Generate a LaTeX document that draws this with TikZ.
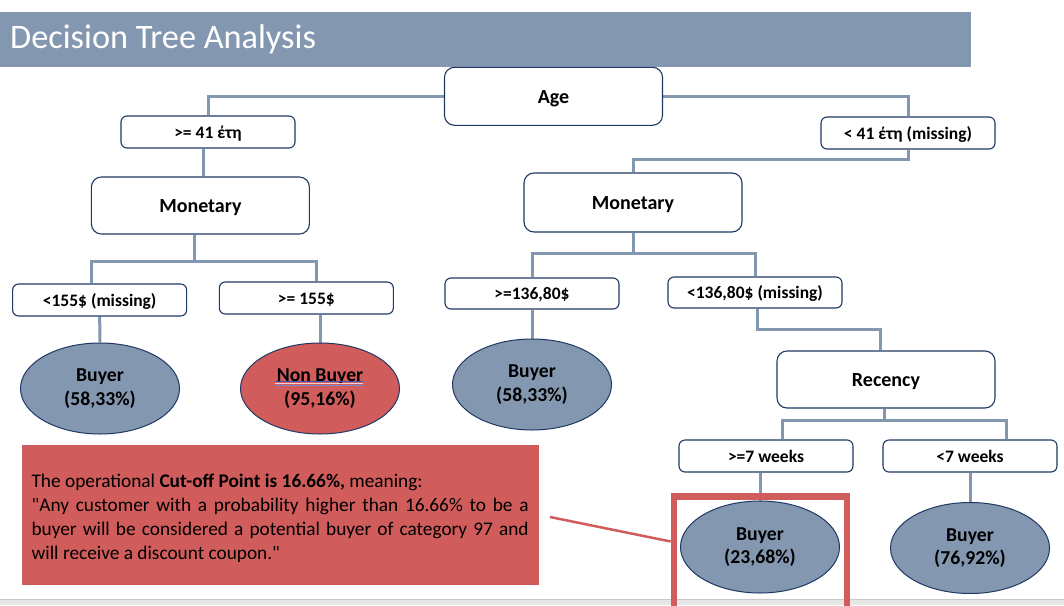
\documentclass[tikz,border=0pt]{standalone}
\usepackage{fontspec}
\setmainfont{Carlito}[Ligatures=TeXOff]
\usetikzlibrary{shapes.geometric,backgrounds,calc}
\definecolor{steel}{HTML}{8497B0}
\definecolor{navy}{HTML}{1F3864}
\definecolor{coral}{HTML}{D05C5C}
\definecolor{stripgray}{HTML}{E6E6E6}
\definecolor{stripline}{HTML}{C8C8C8}
\definecolor{ulblue}{HTML}{3A56B8}
\definecolor{ulpink}{HTML}{F4D2D2}
\begin{document}
\begin{tikzpicture}[x=1pt,y=-1pt,
  bigbox/.style={draw=navy, line width=1.1pt, rounded corners=10pt, fill=white,
    minimum width=218pt, minimum height=58pt, inner sep=0pt,
    font=\fontsize{20}{24}\selectfont\bfseries, text height=19pt, text depth=5.4pt},
  smallbox/.style={draw=navy, line width=1.1pt, rounded corners=6pt, fill=white,
    minimum width=174pt, minimum height=32pt, inner sep=0pt,
    font=\fontsize{17.5}{21}\selectfont\bfseries, text height=16.7pt, text depth=4.7pt},
  leaf/.style={ellipse, draw=navy, line width=1pt, fill=steel,
    minimum width=159pt, minimum height=91pt, inner sep=0pt, align=center,
    font=\fontsize{19.7}{23.5}\selectfont\bfseries},
  conn/.style={draw=steel, line width=3pt},
  callline/.style={draw=coral, line width=2.5pt},
]
\useasboundingbox (0,0) rectangle (1064,605);
\clip (0,0) rectangle (1064,605);
\begin{scope}[on background layer]
\fill[white] (0,0) rectangle (1064,605);
\end{scope}

% title bar
\fill[steel] (0,12) rectangle (970.7,67);
\node[anchor=base west, inner sep=0pt, text=white, font=\fontsize{34.3}{40}\selectfont] (title) at (10,48.3) {Decision Tree Analysis};

% bottom strip
\fill[stripgray] (0,599) rectangle (1064,605);
\draw[stripline, line width=1pt] (0,599) -- (1064,599);

% decision nodes
\node[bigbox] (age) at (553.5,96.3) {Age};
\node[smallbox] (ge41) at (208,132) {>= 41 έτη};
\node[smallbox] (lt41) at (908,133) {< 41 έτη (missing)};
\node[bigbox, minimum height=57pt] (monL) at (200.4,205.5) {Monetary};
\node[bigbox, minimum height=59pt] (monR) at (633,202.5) {Monetary};
\node[smallbox] (lt155) at (99.65,300) {<155\$ (missing)};
\node[smallbox] (ge155) at (306.35,298) {>= 155\$};
\node[smallbox, minimum height=31pt] (ge136) at (532,293.5) {>=136,80\$};
\node[smallbox, minimum height=31pt] (lt136) at (755,292.5) {<136,80\$ (missing)};
\node[bigbox, minimum height=57pt] (rec) at (886,379.5) {Recency};
\node[smallbox] (ge7) at (766,456) {>=7 weeks};
\node[smallbox] (lt7) at (970,456) {<7 weeks};

% leaves
\node[leaf] (e1) at (100,388.5) {Buyer\\(58,33\%)};
\node[leaf, fill=coral] (e2) at (320,388.5) {Non Buyer\\(95,16\%)};
\node[leaf] (e3) at (532,384.5) {Buyer\\(58,33\%)};
\node[leaf, minimum height=92pt] (e4) at (760,547) {Buyer\\(23,68\%)};
\node[leaf] (e5) at (970,548) {Buyer\\(76,92\%)};

% proofing underline under "Non Buyer"
\draw[ulblue, line width=1.1pt] ($(e2.center)+(-45,-7.0)$) -- ++(88,0);
\draw[ulpink, line width=1pt] ($(e2.center)+(-45,-5.0)$) -- ++(88,0);
\draw[ulblue!70, line width=1.1pt] ($(e2.center)+(-45,-3.0)$) -- ++(88,0);

% junction points
\coordinate (jL) at (194,261.7);
\coordinate (jR) at (633,253);
\coordinate (jC) at (880,329);
\coordinate (jD) at (884.5,420);

\begin{scope}[on background layer]
\draw[conn] (age.west) -| (ge41.north);
\draw[conn] (age.east) -| (lt41.north);
\draw[conn] ([xshift=-5pt]ge41.south) -- ([xshift=-5pt]ge41.south |- monL.north);
\draw[conn] (lt41.south) -- ++(0,10) -| (monR.north);
\draw[conn] (jL |- monL.south) -- (jL);
\draw[conn] ([xshift=-8pt]lt155.north) |- (jL) -| ([xshift=10pt]ge155.north);
\draw[conn] (jR |- monR.south) -- (jR);
\draw[conn] (ge136.north) |- (jR) -| (lt136.north);
\draw[conn] ([xshift=2pt]lt136.south) |- (jC) -- (jC |- rec.north);
\draw[conn] (jD |- rec.south) -- (jD);
\draw[conn] ([xshift=16pt]ge7.north) |- (jD) -| ([xshift=36pt]lt7.north);
\draw[conn] (lt155.south) -- (e1.north);
\draw[conn] (e2.north |- ge155.south) -- (e2.north);
\draw[conn] (ge136.south) -- (e3.north);
\draw[conn] (e4.north |- ge7.south) -- (e4.north);
\draw[conn] (lt7.south) -- (e5.north);
\end{scope}

% note box
\node[fill=coral, minimum width=516.7pt, minimum height=140pt, inner sep=0pt] (note) at (280.35,515) {};
\node[anchor=west, inner sep=0pt, align=left, font=\fontsize{19.3}{23.9}\selectfont] (notetext) at (31.4,518.5) {The operational \textbf{Cut-off Point is 16.66\%,} meaning:\\\makebox[497pt][s]{"Any customer with a probability higher than 16.66\% to be a}\\\makebox[497pt][s]{buyer will be considered a potential buyer of category 97 and}\\will receive a discount coupon."};

% highlight and callout
\node[draw=coral, line width=6.7pt, minimum width=173pt, minimum height=115pt, inner sep=0pt] (hl) at (760.5,554) {};
\coordinate (callout) at (550,517);
\draw[callline] (callout) -- ([yshift=12.5pt]hl.west);
\end{tikzpicture}
\end{document}
